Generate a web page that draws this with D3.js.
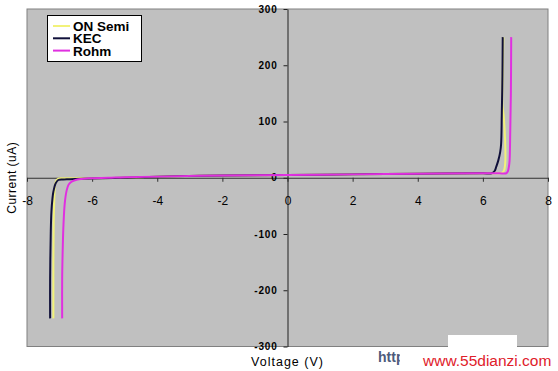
<!DOCTYPE html>
<html>
<head>
<meta charset="utf-8">
<script src="https://cdn.jsdelivr.net/npm/d3@7"></script>
<style>
  body { margin: 0; background: #fff; }
  svg { display: block; font-family: Arial, "Liberation Sans", sans-serif; }
</style>
</head>
<body>
<svg id="chart" width="558" height="371"></svg>
<script>
// series data (voltage V, current uA)
const seriesNames = ['ON Semi', 'KEC', 'Rohm'];
const seriesColors = ['#f2f27a', '#10103a', '#e030e0'];

const onSemiV = [-7.19, -7.19, -7.18, -7.16, -7.14, -7.1, -7.04, -6.9, -6.5, -6, -5, -4, -2, 0, 2, 4, 6, 6.45, 6.6, 6.66, 6.69, 6.68, 6.64, 6.6, 6.61, 6.63];
const onSemiI = [-250, -150, -80, -35, -13, -5, -1.5, -1, -1, -1, 0, 2, 4, 5, 6, 7, 8, 8, 9, 15, 30, 70, 110, 130, 190, 250];

const kecV = [-7.29, -7.29, -7.27, -7.25, -7.22, -7.19, -7.12, -7.04, -6.9, -6.78, -6.5, -6, -5, -4, -2, 0, 2, 4, 6, 6.27, 6.36, 6.41, 6.47, 6.53, 6.56, 6.58, 6.6, 6.61];
const kecI = [-250, -180, -96, -60, -38, -25, -10, -4, -3, -2.5, -2, -1.5, 0, 2, 4, 5, 6, 7, 8, 8, 12, 19.5, 30, 45, 60, 110, 180, 250];

const rohmV = [-6.92, -6.92, -6.9, -6.88, -6.84, -6.78, -6.72, -6.63, -6.45, -6.12, -5.5, -5, -4, -2, 0, 2, 4, 6, 6.5, 6.72, 6.77, 6.8, 6.82, 6.84, 6.86, 6.87];
const rohmI = [-250, -180, -120, -84, -45, -22, -12, -7, -3, -1, 0, 1, 2, 4, 5, 6, 7, 8, 8, 8, 12, 20, 30, 80, 150, 250];

const xTicks = [-8, -6, -4, -2, 0, 2, 4, 6, 8];
const yTicks = [-300, -200, -100, 0, 100, 200, 300];

const seriesV = [onSemiV, kecV, rohmV];
const seriesI = [onSemiI, kecI, rohmI];

const svg = d3.select('#chart');
const plot = {left: 27, right: 548, top: 9, bottom: 346.5};

const x = d3.scaleLinear().domain([-8, 8]).range([plot.left, plot.right]);
const y = d3.scaleLinear().domain([-300, 300]).range([plot.bottom, plot.top]);

// plot area
svg.append('rect')
  .attr('x', plot.left)
  .attr('y', plot.top)
  .attr('width', plot.right - plot.left)
  .attr('height', plot.bottom - plot.top)
  .attr('fill', '#c0c0c0')
  .attr('stroke', '#808080')
  .attr('stroke-width', 1);

// x axis crossing at I = 0
const xAxis = svg.append('g')
  .attr('transform', `translate(0,${y(0)})`)
  .call(d3.axisBottom(x).tickValues(xTicks).tickSize(4).tickPadding(15).tickSizeOuter(0)
    .tickFormat(d3.format('d')));
xAxis.select('.domain').attr('stroke', '#303030');
xAxis.selectAll('.tick line').attr('stroke', '#303030');
xAxis.selectAll('text')
  .attr('font-size', 12)
  .attr('fill', '#000')
  .text(d => String(d));

// y axis crossing at V = 0
const yAxis = svg.append('g')
  .attr('transform', `translate(${x(0)},0)`)
  .call(d3.axisLeft(y).tickValues(yTicks).tickSize(4).tickPadding(6).tickSizeOuter(0));
yAxis.select('.domain').attr('stroke', '#202020');
yAxis.selectAll('.tick line').attr('stroke', '#202020');
yAxis.selectAll('text')
  .attr('font-size', 10)
  .attr('font-weight', 'bold')
  .attr('letter-spacing', '0.8px')
  .attr('fill', '#000')
  .text(d => String(d));

// curves
const line = d3.line()
  .x(d => x(d[0]))
  .y(d => y(d[1]))
  .curve(d3.curveCatmullRom.alpha(0.5));

seriesNames.forEach((name, i) => {
  const pts = seriesV[i].map((v, k) => [v, seriesI[i][k]]);
  svg.append('path')
    .datum(pts)
    .attr('d', line)
    .attr('fill', 'none')
    .attr('stroke', seriesColors[i])
    .attr('stroke-width', 2)
    .attr('stroke-linejoin', 'round');
});

// legend
const legend = svg.append('g');
legend.append('rect')
  .attr('x', 47.5).attr('y', 15.5)
  .attr('width', 94).attr('height', 46)
  .attr('fill', '#fff')
  .attr('stroke', '#000');
seriesNames.forEach((name, i) => {
  const cy = 26 + i * 12.3;
  legend.append('line')
    .attr('x1', 53).attr('x2', 70)
    .attr('y1', cy).attr('y2', cy)
    .attr('stroke', seriesColors[i])
    .attr('stroke-width', 2);
  legend.append('text')
    .attr('x', 73).attr('y', cy + 5)
    .attr('font-size', 13.5)
    .attr('font-weight', 'bold')
    .attr('fill', '#000')
    .text(name);
});

// axis titles
svg.append('text')
  .attr('transform', `translate(16,${y(0)}) rotate(-90)`)
  .attr('text-anchor', 'middle')
  .attr('font-size', 12)
  .attr('letter-spacing', '0.5px')
  .text('Current (uA)');

svg.append('text')
  .attr('x', x(0)).attr('y', 366)
  .attr('text-anchor', 'middle')
  .attr('font-size', 12.5)
  .attr('letter-spacing', '1px')
  .text('Voltage (V)');

// watermark
svg.append('text')
  .attr('x', 378).attr('y', 362)
  .attr('font-size', 14)
  .attr('font-weight', 'bold')
  .attr('fill', '#4d5b7c')
  .text('http');
svg.append('rect').attr('x', 400).attr('y', 348).attr('width', 158).attr('height', 23).attr('fill', '#fff');
svg.append('rect').attr('x', 448).attr('y', 335).attr('width', 69).attr('height', 13).attr('fill', '#fff');
svg.append('text')
  .attr('x', 423).attr('y', 366)
  .attr('font-size', 15.5)
  .attr('fill', '#e0202a')
  .text('www.55dianzi.com');
</script>
</body>
</html>
